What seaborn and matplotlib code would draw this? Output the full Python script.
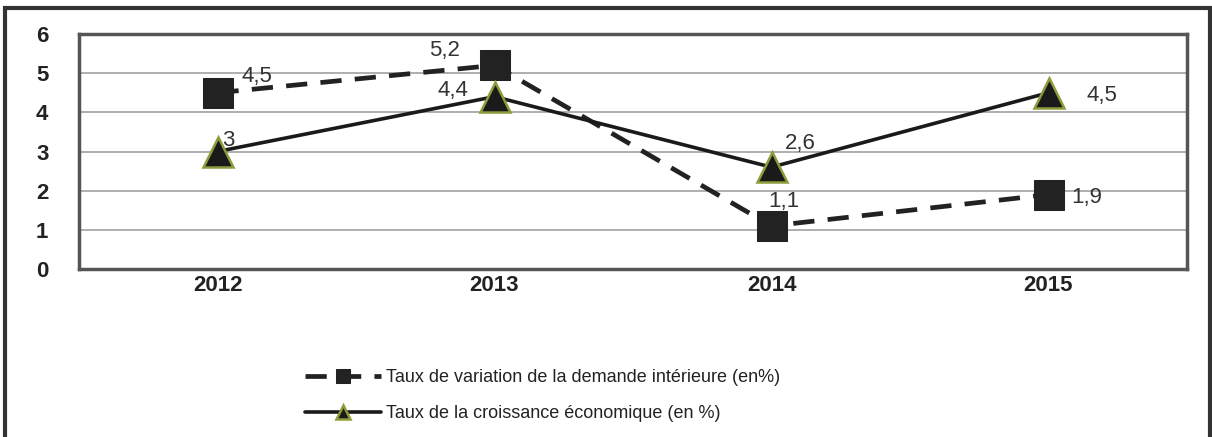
import numpy as np
import pandas as pd
import matplotlib
matplotlib.use("Agg")
import matplotlib.pyplot as plt
import seaborn as sns
from matplotlib.patches import Rectangle

# data
years = ["2012", "2013", "2014", "2015"]
demande = [4.5, 5.2, 1.1, 1.9]
croissance = [3.0, 4.4, 2.6, 4.5]
label_demande = "Taux de variation de la demande intérieure (en%)"
label_croissance = "Taux de la croissance économique (en %)"

# label offsets in pixels (dx, dy)
off_demande = [(39, 16), (-50, 15), (12, 24), (38, -3)]
off_croissance = [(11, 11), (-42, 6), (29, 24), (53, -3)]

sns.set_style("white")
plt.rcParams['font.family'] = ['Liberation Sans', 'DejaVu Sans']

df = pd.DataFrame({"annee": years, "demande": demande, "croissance": croissance})

fig = plt.figure(figsize=(12.12, 4.37), dpi=100)
ax = fig.add_axes([79 / 1212, 1 - 269 / 437, (1187 - 79) / 1212, (269 - 34) / 437])

sns.lineplot(data=df, x="annee", y="demande", ax=ax, sort=False, color="#222222",
             linewidth=3.4, linestyle=(0, (4.5, 2.8)), marker="s", markersize=21,
             markeredgecolor="#222222", label=label_demande)
sns.lineplot(data=df, x="annee", y="croissance", ax=ax, sort=False, color="#1a1a1a",
             linewidth=2.6, marker="^", markersize=21, markerfacecolor="#1a1a1a",
             markeredgecolor="#8f9a3a", markeredgewidth=1.8, label=label_croissance)

for i, v in enumerate(demande):
    ax.annotate(f"{v:.1f}".replace(".", ","), (i, v), xytext=off_demande[i],
                textcoords="offset pixels", ha="center", va="center",
                fontsize=16, color="#333333")
for i, v in enumerate(croissance):
    txt = f"{v:g}".replace(".", ",")
    ax.annotate(txt, (i, v), xytext=off_croissance[i],
                textcoords="offset pixels", ha="center", va="center",
                fontsize=16, color="#333333")

ax.set_xlim(-0.5, 3.5)
ax.set_ylim(0, 6)
ax.set_yticks(range(0, 7))
ax.set_xlabel("")
ax.set_ylabel("")
ax.yaxis.grid(True, color="#a8a8a8", linewidth=1.3)
ax.xaxis.grid(False)
ax.set_axisbelow(True)
for s in ax.spines.values():
    s.set_color("#555555")
    s.set_linewidth(2.5)
ax.tick_params(axis="both", length=0, labelsize=16, colors="#222222")
ax.tick_params(axis="y", pad=22)
ax.tick_params(axis="x", pad=4)
for t in ax.get_xticklabels() + ax.get_yticklabels():
    t.set_fontweight("bold")

leg = ax.legend(loc="upper left", bbox_to_anchor=(298 / 1212, 1 - 362 / 437),
                bbox_transform=fig.transFigure, frameon=False, fontsize=13,
                handlelength=4.2, handletextpad=0.3, labelspacing=1.05,
                markerscale=0.5, borderaxespad=0)
for t in leg.get_texts():
    t.set_color("#222222")

# outer frame around the chart
fig.patches.append(Rectangle((5 / 1212, -0.02), 1205 / 1212, 1 - 8 / 437 + 0.02,
                             transform=fig.transFigure, fill=False,
                             edgecolor="#333333", linewidth=3))

fig.savefig("out.png", dpi=100)
